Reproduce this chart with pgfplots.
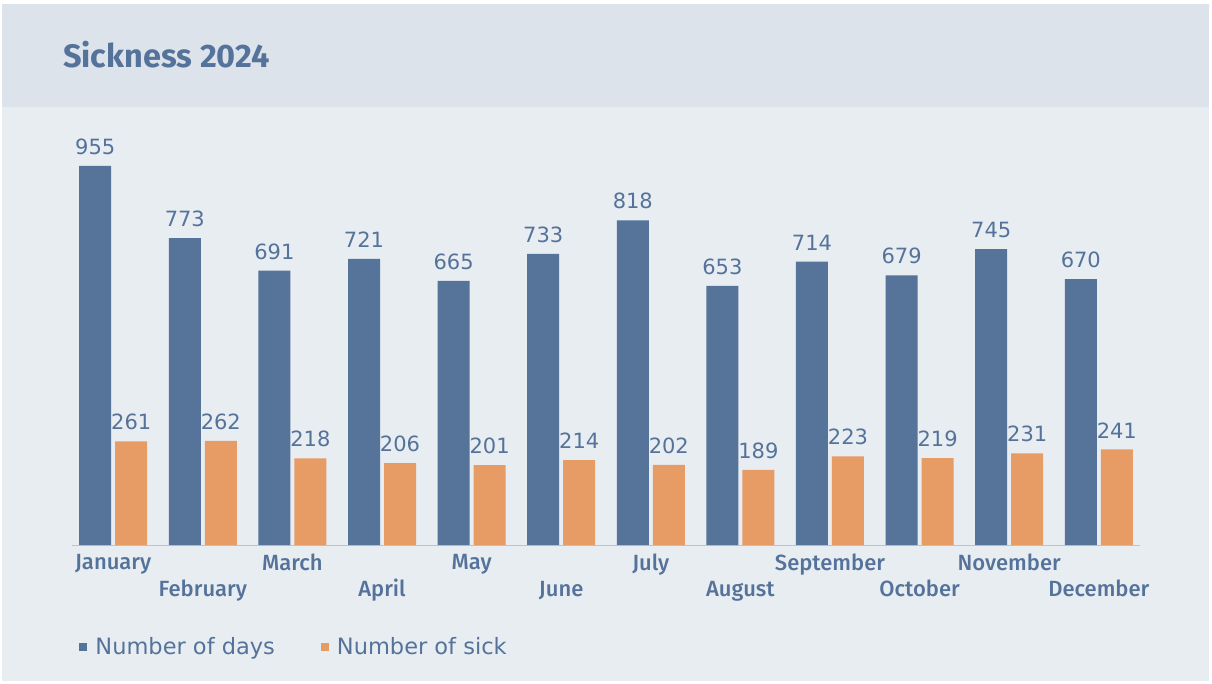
\documentclass[border=0pt]{standalone}
\usepackage{fontspec}
\setmainfont{DejaVu Sans}
\newfontfamily\labelfont{Fira Sans}[UprightFont=* Medium]
\newfontfamily\titlefont{Fira Sans}[UprightFont=* Bold]
\usepackage{pgfplots}
\pgfplotsset{compat=1.18}

\definecolor{days}{HTML}{56739A}
\definecolor{sick}{HTML}{E79B65}
\definecolor{txt}{HTML}{55739A}
\definecolor{band}{HTML}{DCE3EA}
\definecolor{body}{HTML}{E8EDF2}
\definecolor{axisline}{HTML}{B9C5D2}

\begin{document}
\begin{tikzpicture}[x=1pt,y=1pt]
% panel background
\fill[white] (0,0) rectangle (1212,-684);
\fill[band] (2,-4) rectangle (1209,-107);
\fill[body] (2,-107) rectangle (1209,-681);
\node[anchor=base west, inner sep=0pt, text=txt, font=\titlefont\fontsize{32.5}{38}\selectfont] at (63,-68) {Sickness 2024};

\begin{axis}[
  at={(72pt,-545pt)}, anchor=south west,
  scale only axis,
  width=1068pt, height=397pt,
  xmin=-0.46, xmax=11.46,
  ymin=0, ymax=1000,
  ybar=4pt, bar width=32pt,
  axis x line*=bottom,
  axis y line=none,
  axis line style={axisline, line width=1pt, -},
  xtick=data,
  major tick length=0pt,
  xticklabels={January,{\strut\\[-4pt]February},March,{\strut\\[-4pt]April},May,{\strut\\[-4pt]June},July,{\strut\\[-4pt]August},September,{\strut\\[-4pt]October},November,{\strut\\[-4pt]December}},
  xticklabel style={align=center, text=txt, font=\labelfont\fontsize{22}{27}\selectfont, inner sep=0pt, yshift=-9pt},
  /pgf/number format/assume math mode=true,
  nodes near coords,
  nodes near coords style={text=txt, font=\fontsize{21}{25}\selectfont, inner sep=0pt, anchor=south, yshift=11pt},
  legend columns=2,
  legend style={at={(0.004,-0.257)}, anchor=west, draw=none, fill=none,
    font=\fontsize{22.5}{26}\selectfont, text=txt,
    /tikz/every even column/.append style={column sep=44pt}},
  legend image code/.code={\fill[#1] (0pt,-4pt) rectangle (8pt,4pt); \path (14pt,0pt);},
]
\addplot[fill=days, draw=none] coordinates {
  (0,955) (1,773) (2,691) (3,721) (4,665) (5,733)
  (6,818) (7,653) (8,714) (9,679) (10,745) (11,670)};
\addplot[fill=sick, draw=none] coordinates {
  (0,261) (1,262) (2,218) (3,206) (4,201) (5,214)
  (6,202) (7,189) (8,223) (9,219) (10,231) (11,241)};
\legend{Number of days, Number of sick}
\end{axis}
\end{tikzpicture}
\end{document}
